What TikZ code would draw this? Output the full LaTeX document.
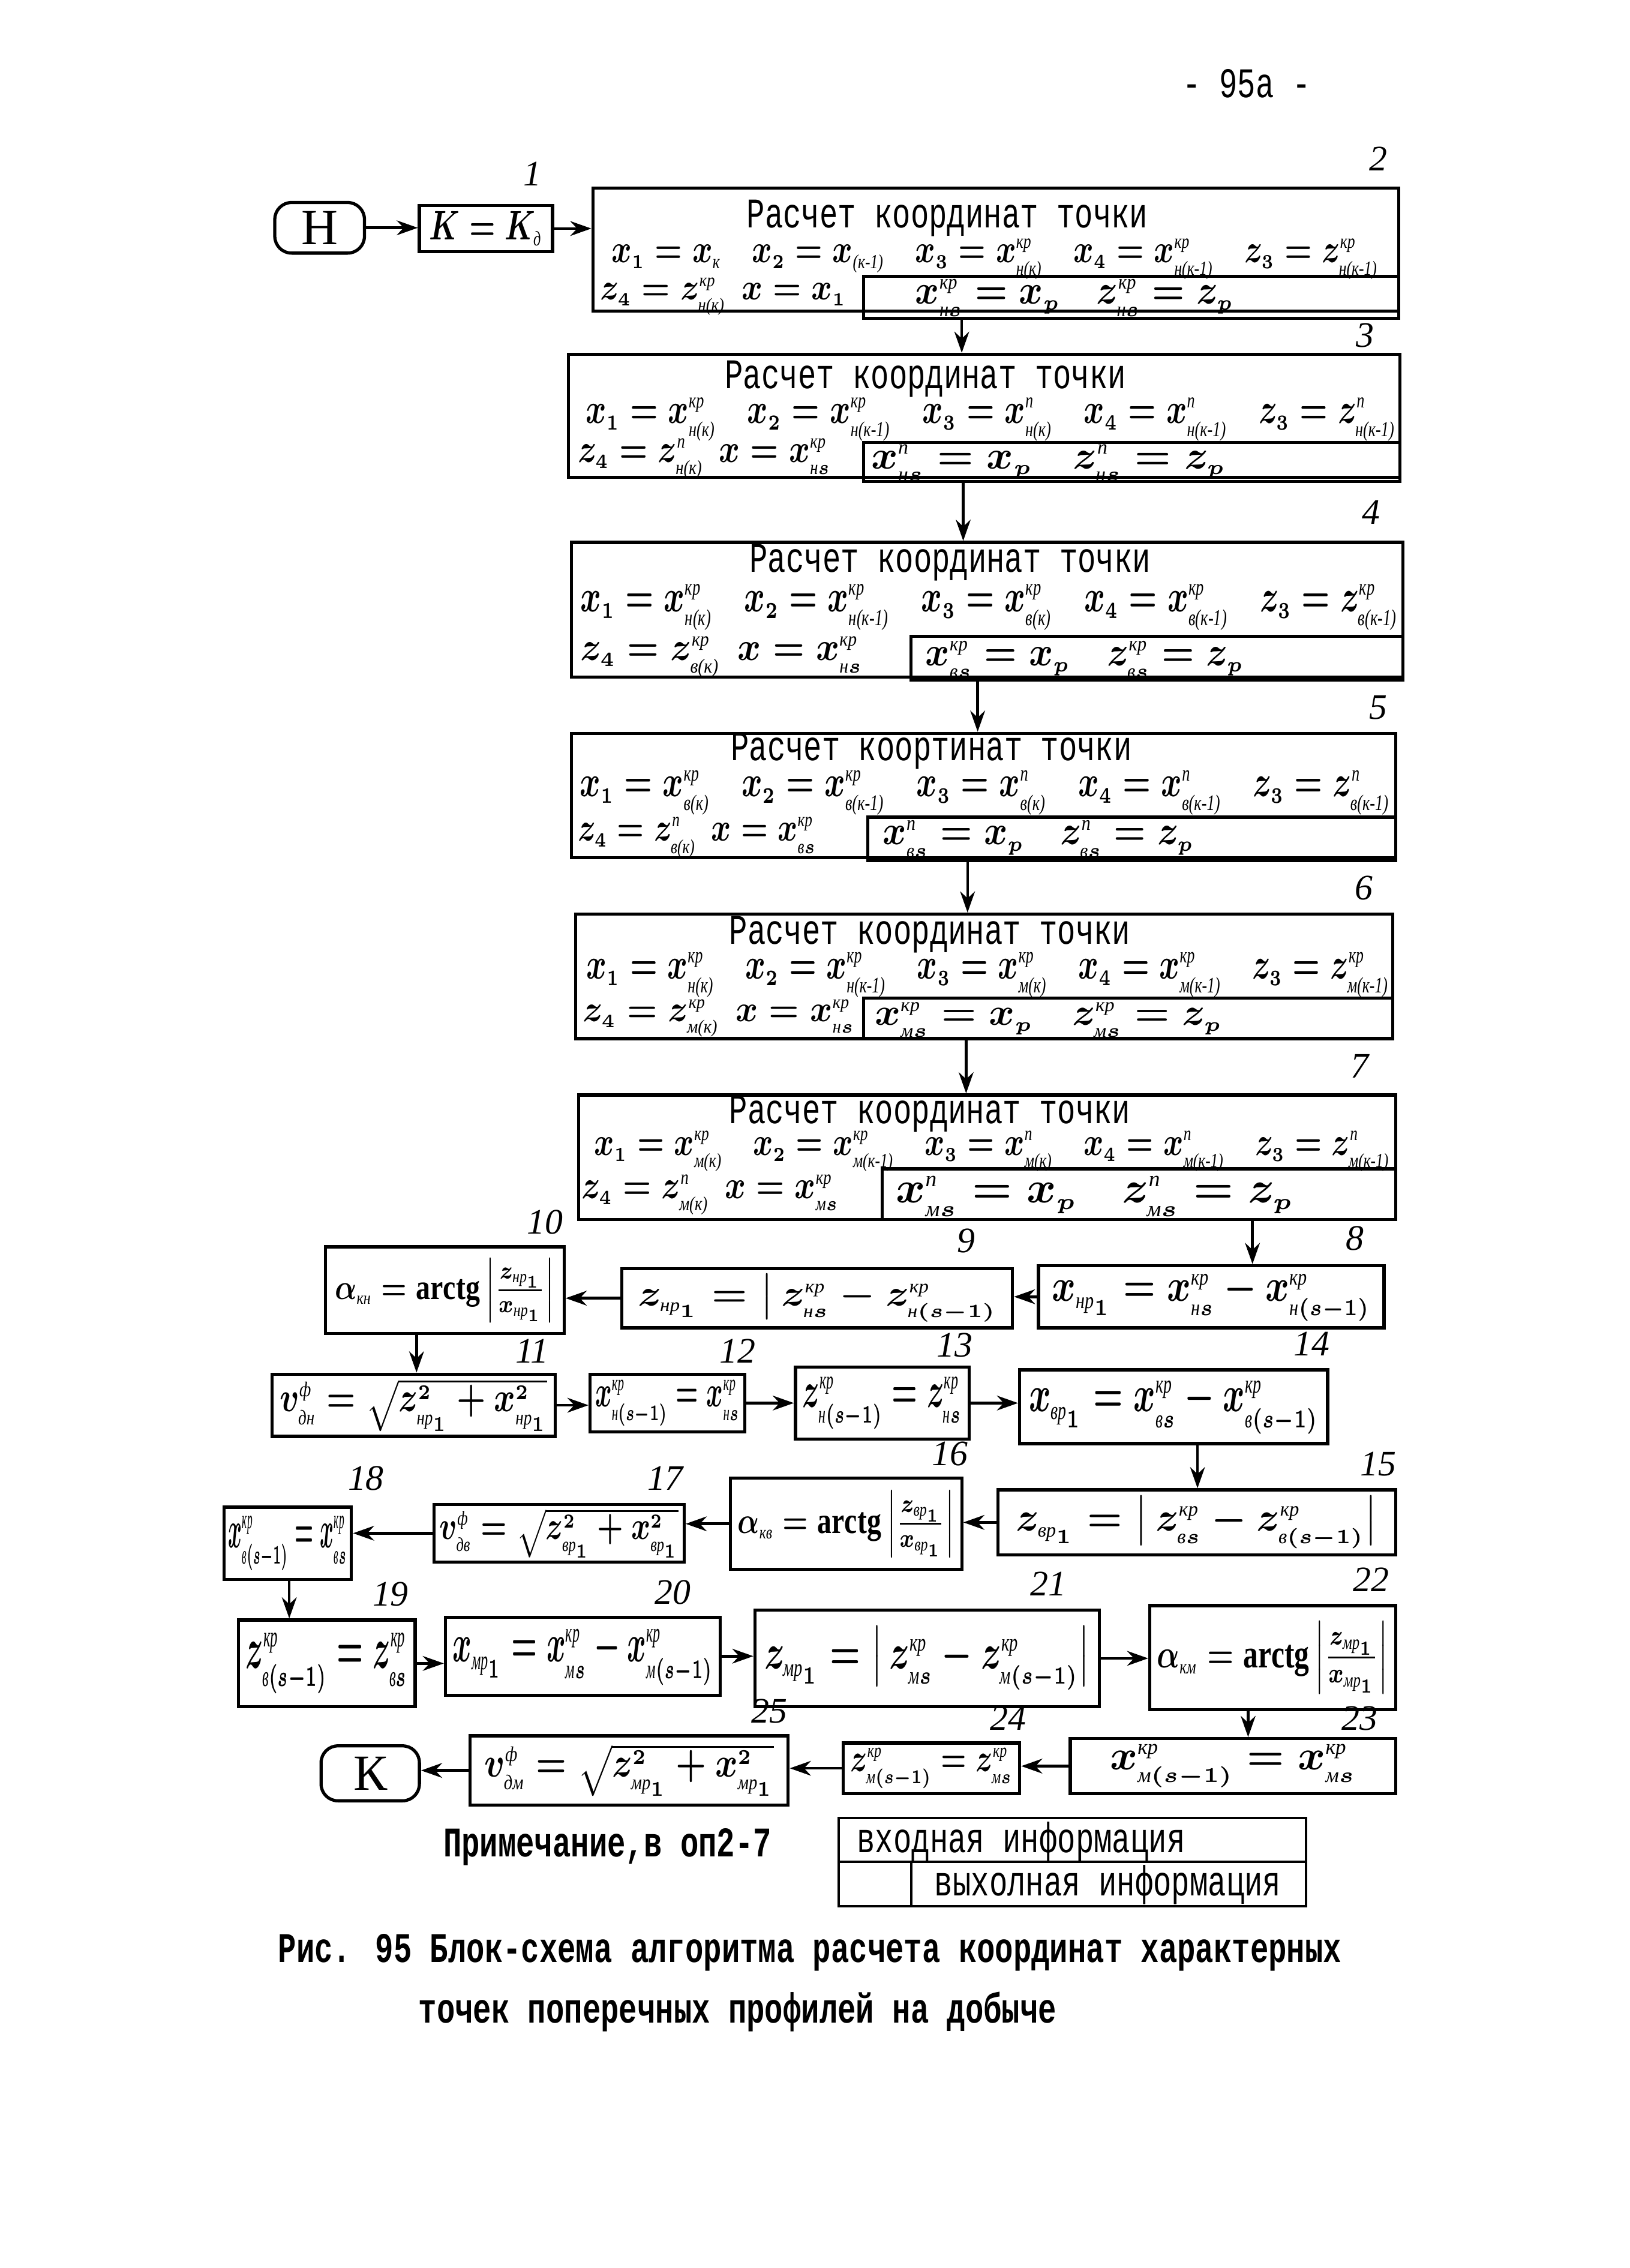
\documentclass[tikz,border=0pt]{standalone}
\usepackage{fontspec}
\usepackage{amsmath}
\setmainfont{Liberation Serif}
\newfontfamily\tw[FakeStretch=0.72]{Liberation Mono}
\usetikzlibrary{arrows.meta,fit}
\newlength\uw \setlength\uw{0.0241cm}
\newcommand\fw[3]{\resizebox*{#1\uw}{#2\uw}{#3}}
\newcommand\T[1]{\text{#1}}
\newcommand\XX[3]{{#1}^{\scriptscriptstyle #2}_{\scriptscriptstyle #3}}
\newcommand\XS[2]{{#1}_{\scriptscriptstyle #2}}
\newcommand\kr{\text{кр}}
\newcommand\pp{\text{п}}
\begin{document}
\begin{tikzpicture}[x=0.0241cm,y=-0.0241cm,
 blk/.style={draw,line width=1.5pt,inner sep=0pt},
 thinbox/.style={draw,line width=1.1pt,inner sep=0pt},
 rnd/.style={blk,rounded corners=8pt},
 arr/.style={line width=1.3pt,-{Stealth[length=10pt,width=7pt]}},
 ttl/.style={font=\tw\fontsize{20}{22}\selectfont,inner sep=0pt},
 captxt/.style={font=\tw\bfseries\fontsize{20}{22}\selectfont,inner sep=0pt},
 fm/.style={font=\itshape\boldmath,inner sep=0pt},
 lbl/.style={font=\itshape\fontsize{17}{19}\selectfont,inner sep=0pt}]

\useasboundingbox (0,0) rectangle (1127,1568);

\node[ttl] (pg) at (862,58) {- 95а -};

% start / K=K
\node[rnd,fit={(190,140)(252,175)}] (H) {};
\node[fm,font=\fontsize{24}{26}\selectfont] (Ht) at (H) {Н};
\node[blk,fit={(290,142)(382,174)}] (KK) {};
\node[fm] (KKt) at (KK) {\fw{78}{24}{$K=\XS{K}{\T{д}}$}};
\node[lbl] (l1) at (368,120) {1};

% ---------- box 2
\node[blk,fit={(410,130)(967,215)}] (b2) {};
\node[blk,fit={(597,191)(967,220)}] (b2o) {};
\node[ttl] (b2t) at (655,151) {Расчет координат точки};
\node[fm] (b2a) at (688,179) {\fw{530}{28}{$\XS{x}{1}=\XS{x}{\T{к}}\quad \XS{x}{2}=\XS{x}{\T{(к-1)}}\quad \XS{x}{3}=\XX{x}{\kr}{\T{н(к)}}\quad \XS{x}{4}=\XX{x}{\kr}{\T{н(к-1)}}\quad \XS{z}{3}=\XX{z}{\kr}{\T{н(к-1)}}$}};
\node[fm] (b2b) at (500,205) {\fw{170}{26}{$\XS{z}{4}=\XX{z}{\kr}{\T{н(к)}}\ \ x=\XS{x}{1}$}};
\node[fm] (b2c) at (743,206) {\fw{220}{26}{$\XX{x}{\kr}{\T{н}s}=\XS{x}{p}\quad \XX{z}{\kr}{\T{н}s}=\XS{z}{p}$}};
\node[lbl] (l2) at (953,110) {2};

% ---------- box 3
\node[blk,fit={(393,245)(968,330)}] (b3) {};
\node[blk,fit={(597,306)(968,333)}] (b3o) {};
\node[ttl] (b3t) at (640,262) {Расчет координат точки};
\node[fm] (b3a) at (685,290) {\fw{560}{30}{$\XS{x}{1}=\XX{x}{\kr}{\T{н(к)}}\quad \XS{x}{2}=\XX{x}{\kr}{\T{н(к-1)}}\quad \XS{x}{3}=\XX{x}{\pp}{\T{н(к)}}\quad \XS{x}{4}=\XX{x}{\pp}{\T{н(к-1)}}\quad \XS{z}{3}=\XX{z}{\pp}{\T{н(к-1)}}$}};
\node[fm] (b3b) at (487,317) {\fw{175}{28}{$\XS{z}{4}=\XX{z}{\pp}{\T{н(к)}}\ \ x=\XX{x}{\kr}{\T{н}s}$}};
\node[fm] (b3c) at (725,320) {\fw{245}{25}{$\XX{x}{\pp}{\T{н}s}=\XS{x}{p}\quad \XX{z}{\pp}{\T{н}s}=\XS{z}{p}$}};
\node[lbl] (l3) at (944,232) {3};

% ---------- box 4
\node[blk,fit={(395,375)(970,468)}] (b4) {};
\node[blk,fit={(630,440)(970,470)}] (b4o) {};
\node[ttl] (b4t) at (657,389) {Расчет координат точки};
\node[fm] (b4a) at (684,420) {\fw{565}{32}{$\XS{x}{1}=\XX{x}{\kr}{\T{н(к)}}\quad \XS{x}{2}=\XX{x}{\kr}{\T{н(к-1)}}\quad \XS{x}{3}=\XX{x}{\kr}{\T{в(к)}}\quad \XS{x}{4}=\XX{x}{\kr}{\T{в(к-1)}}\quad \XS{z}{3}=\XX{z}{\kr}{\T{в(к-1)}}$}};
\node[fm] (b4b) at (499,454) {\fw{195}{28}{$\XS{z}{4}=\XX{z}{\kr}{\T{в(к)}}\ \ x=\XX{x}{\kr}{\T{н}s}$}};
\node[fm] (b4c) at (750,456) {\fw{220}{26}{$\XX{x}{\kr}{\T{в}s}=\XS{x}{p}\quad \XX{z}{\kr}{\T{в}s}=\XS{z}{p}$}};
\node[lbl] (l4) at (948,354) {4};

% ---------- box 5
\node[blk,fit={(395,507)(965,593)}] (b5) {};
\node[blk,fit={(600,565)(965,595)}] (b5o) {};
\node[ttl] (b5t) at (644,519) {Расчет коортинат точки};
\node[fm] (b5a) at (681,548) {\fw{560}{31}{$\XS{x}{1}=\XX{x}{\kr}{\T{в(к)}}\quad \XS{x}{2}=\XX{x}{\kr}{\T{в(к-1)}}\quad \XS{x}{3}=\XX{x}{\pp}{\T{в(к)}}\quad \XS{x}{4}=\XX{x}{\pp}{\T{в(к-1)}}\quad \XS{z}{3}=\XX{z}{\pp}{\T{в(к-1)}}$}};
\node[fm] (b5b) at (482,579) {\fw{165}{28}{$\XS{z}{4}=\XX{z}{\pp}{\T{в(к)}}\ \ x=\XX{x}{\kr}{\T{в}s}$}};
\node[fm] (b5c) at (718,580) {\fw{215}{26}{$\XX{x}{\pp}{\T{в}s}=\XS{x}{p}\quad \XX{z}{\pp}{\T{в}s}=\XS{z}{p}$}};
\node[lbl] (l5) at (953,489) {5};

% ---------- box 6
\node[blk,fit={(398,632)(963,718)}] (b6) {};
\node[blk,fit={(597,690)(963,718)}] (b6o) {};
\node[ttl] (b6t) at (643,646) {Расчет координат точки};
\node[fm] (b6a) at (683,674) {\fw{555}{31}{$\XS{x}{1}=\XX{x}{\kr}{\T{н(к)}}\quad \XS{x}{2}=\XX{x}{\kr}{\T{н(к-1)}}\quad \XS{x}{3}=\XX{x}{\kr}{\T{м(к)}}\quad \XS{x}{4}=\XX{x}{\kr}{\T{м(к-1)}}\quad \XS{z}{3}=\XX{z}{\kr}{\T{м(к-1)}}$}};
\node[fm] (b6b) at (497,704) {\fw{188}{26}{$\XS{z}{4}=\XX{z}{\kr}{\T{м(к)}}\ \ x=\XX{x}{\kr}{\T{н}s}$}};
\node[fm] (b6c) at (725,705) {\fw{240}{24}{$\XX{x}{\kr}{\T{м}s}=\XS{x}{p}\quad \XX{z}{\kr}{\T{м}s}=\XS{z}{p}$}};
\node[lbl] (l6) at (943,614) {6};

% ---------- box 7
\node[blk,fit={(400,757)(965,843)}] (b7) {};
\node[blk,fit={(610,808)(965,843)}] (b7o) {};
\node[ttl] (b7t) at (643,770) {Расчет координат точки};
\node[fm] (b7a) at (686,796) {\fw{550}{28}{$\XS{x}{1}=\XX{x}{\kr}{\T{м(к)}}\quad \XS{x}{2}=\XX{x}{\kr}{\T{м(к-1)}}\quad \XS{x}{3}=\XX{x}{\pp}{\T{м(к)}}\quad \XS{x}{4}=\XX{x}{\pp}{\T{м(к-1)}}\quad \XS{z}{3}=\XX{z}{\pp}{\T{м(к-1)}}$}};
\node[fm] (b7b) at (491,826) {\fw{178}{28}{$\XS{z}{4}=\XX{z}{\pp}{\T{м(к)}}\ \ x=\XX{x}{\kr}{\T{м}s}$}};
\node[fm] (b7c) at (757,827) {\fw{275}{28}{$\XX{x}{\pp}{\T{м}s}=\XS{x}{p}\quad \XX{z}{\pp}{\T{м}s}=\XS{z}{p}$}};
\node[lbl] (l7) at (940,737) {7};

% ---------- row 1 (8, 9, 10)
\node[blk,fit={(718,875)(957,918)}] (b8) {};
\node[fm] (t8) at (b8) {\fw{220}{34}{$\XS{x}{\T{нр}_1}=\XX{x}{\kr}{\T{н}s}-\XX{x}{\kr}{\T{н}(s-1)}$}};
\node[lbl] (l8) at (937,856) {8};
\node[blk,fit={(430,877)(700,918)}] (b9) {};
\node[fm] (t9) at (b9) {\fw{248}{33}{$\XS{z}{\T{нр}_1}=\bigl|\,\XX{z}{\kr}{\T{н}s}-\XX{z}{\kr}{\T{н}(s-1)}$}};
\node[lbl] (l9) at (668,858) {9};
\node[blk,fit={(225,862)(390,922)}] (b10) {};
\node[fm] (t10) at (b10) {\fw{152}{44}{$\XS{\alpha}{\T{кн}}=\mathrm{arctg}\left|\frac{\XS{z}{\T{нр}_1}}{\XS{x}{\T{нр}_1}}\right|$}};
\node[lbl] (l10) at (377,845) {10};

% ---------- row 2 (11-14)
\node[blk,fit={(188,950)(384,993)}] (b11) {};
\node[fm] (t11) at (b11) {\fw{185}{36}{$\XX{v}{\T{ф}}{\T{дн}}=\sqrt{\XX{z}{2}{\T{нр}_1}+\XX{x}{2}{\T{нр}_1}}$}};
\node[lbl] (l11) at (368,934) {11};
\node[blk,fit={(408,950)(515,990)}] (b12) {};
\node[fm] (t12) at (b12) {\fw{100}{32}{$\XX{x}{\kr}{\T{н}(s-1)}=\XX{x}{\kr}{\T{н}s}$}};
\node[lbl] (l12) at (510,934) {12};
\node[blk,fit={(550,945)(670,995)}] (b13) {};
\node[fm] (t13) at (b13) {\fw{110}{36}{$\XX{z}{\kr}{\T{н}(s-1)}=\XX{z}{\kr}{\T{н}s}$}};
\node[lbl] (l13) at (660,930) {13};
\node[blk,fit={(705,947)(918,998)}] (b14) {};
\node[fm] (t14) at (b14) {\fw{200}{38}{$\XS{x}{\T{вр}_1}=\XX{x}{\kr}{\T{в}s}-\XX{x}{\kr}{\T{в}(s-1)}$}};
\node[lbl] (l14) at (907,929) {14};

% ---------- row 3 (15-18)
\node[blk,fit={(690,1030)(965,1075)}] (b15) {};
\node[fm] (t15) at (b15) {\fw{250}{36}{$\XS{z}{\T{вр}_1}=\bigl|\,\XX{z}{\kr}{\T{в}s}-\XX{z}{\kr}{\T{в}(s-1)}\bigr|$}};
\node[lbl] (l15) at (953,1012) {15};
\node[blk,fit={(505,1022)(665,1085)}] (b16) {};
\node[fm] (t16) at (b16) {\fw{150}{46}{$\XS{\alpha}{\T{кв}}=\mathrm{arctg}\left|\frac{\XS{z}{\T{вр}_1}}{\XS{x}{\T{вр}_1}}\right|$}};
\node[lbl] (l16) at (657,1005) {16};
\node[blk,fit={(300,1040)(473,1080)}] (b17) {};
\node[fm] (t17) at (b17) {\fw{165}{34}{$\XX{v}{\T{ф}}{\T{дв}}=\sqrt{\XX{z}{2}{\T{вр}_1}+\XX{x}{2}{\T{вр}_1}}$}};
\node[lbl] (l17) at (460,1022) {17};
\node[blk,fit={(155,1042)(243,1092)}] (b18) {};
\node[fm] (t18) at (b18) {\fw{82}{38}{$\XX{x}{\kr}{\T{в}(s-1)}=\XX{x}{\kr}{\T{в}s}$}};
\node[lbl] (l18) at (253,1022) {18};

% ---------- row 4 (19-22)
\node[blk,fit={(165,1120)(287,1180)}] (b19) {};
\node[fm] (t19) at (b19) {\fw{112}{42}{$\XX{z}{\kr}{\T{в}(s-1)}=\XX{z}{\kr}{\T{в}s}$}};
\node[lbl] (l19) at (270,1102) {19};
\node[blk,fit={(308,1118)(498,1172)}] (b20) {};
\node[fm] (t20) at (b20) {\fw{180}{40}{$\XS{x}{\T{мр}_1}=\XX{x}{\kr}{\T{м}s}-\XX{x}{\kr}{\T{м}(s-1)}$}};
\node[lbl] (l20) at (465,1101) {20};
\node[blk,fit={(522,1113)(760,1180)}] (b21) {};
\node[fm] (t21) at (b21) {\fw{225}{44}{$\XS{z}{\T{мр}_1}=\bigl|\,\XX{z}{\kr}{\T{м}s}-\XX{z}{\kr}{\T{м}(s-1)}\bigr|$}};
\node[lbl] (l21) at (725,1095) {21};
\node[blk,fit={(795,1110)(965,1182)}] (b22) {};
\node[fm] (t22) at (b22) {\fw{160}{50}{$\XS{\alpha}{\T{км}}=\mathrm{arctg}\left|\frac{\XS{z}{\T{мр}_1}}{\XS{x}{\T{мр}_1}}\right|$}};
\node[lbl] (l22) at (948,1092) {22};

% ---------- row 5 (23-25, K)
\node[blk,fit={(740,1202)(965,1240)}] (b23) {};
\node[fm] (t23) at (b23) {\fw{170}{30}{$\XX{x}{\kr}{\T{м}(s-1)}=\XX{x}{\kr}{\T{м}s}$}};
\node[lbl] (l23) at (940,1188) {23};
\node[blk,fit={(583,1205)(705,1240)}] (b24) {};
\node[fm] (t24) at (b24) {\fw{112}{28}{$\XX{z}{\kr}{\T{м}(s-1)}=\XX{z}{\kr}{\T{м}s}$}};
\node[lbl] (l24) at (697,1188) {24};
\node[blk,fit={(325,1200)(545,1248)}] (b25) {};
\node[fm] (t25) at (b25) {\fw{200}{36}{$\XX{v}{\T{ф}}{\T{дм}}=\sqrt{\XX{z}{2}{\T{мр}_1}+\XX{x}{2}{\T{мр}_1}}$}};
\node[lbl] (l25) at (532,1183) {25};
\node[rnd,fit={(222,1207)(290,1245)}] (K) {};
\node[fm,font=\fontsize{24}{26}\selectfont] (Kt) at (K) {К};

% ---------- connectors
\coordinate (v23) at (665,0);
\coordinate (v34) at (666,0);
\coordinate (v45) at (676,0);
\coordinate (v56) at (669,0);
\coordinate (v67) at (668,0);
\coordinate (v78) at (866,0);
\coordinate (v1011) at (288,0);
\coordinate (v1415) at (828,0);
\coordinate (v1819) at (200,0);
\coordinate (v2223) at (863,0);

\draw[arr] (H.east) -- (H.east -| KK.west);
\draw[arr] (KK.east) -- (KK.east -| b2.west);
\draw[arr] (b2o.south -| v23) -- (b3.north -| v23);
\draw[arr] (b3o.south -| v34) -- (b4.north -| v34);
\draw[arr] (b4o.south -| v45) -- (b5.north -| v45);
\draw[arr] (b5o.south -| v56) -- (b6.north -| v56);
\draw[arr] (b6o.south -| v67) -- (b7.north -| v67);
\draw[arr] (b7o.south -| v78) -- (b8.north -| v78);

\draw[arr] (b8.west) -- (b8.west -| b9.east);
\draw[arr] (b9.west) -- (b9.west -| b10.east);
\draw[arr] (b10.south -| v1011) -- (b11.north -| v1011);
\draw[arr] (b11.east) -- (b11.east -| b12.west);
\draw[arr] (b12.east) -- (b12.east -| b13.west);
\draw[arr] (b13.east) -- (b13.east -| b14.west);
\draw[arr] (b14.south -| v1415) -- (b15.north -| v1415);
\draw[arr] (b15.west) -- (b15.west -| b16.east);
\draw[arr] (b16.west) -- (b16.west -| b17.east);
\draw[arr] (b17.west) -- (b17.west -| b18.east);
\draw[arr] (b18.south -| v1819) -- (b19.north -| v1819);
\draw[arr] (b19.east) -- (b19.east -| b20.west);
\draw[arr] (b20.east) -- (b20.east -| b21.west);
\draw[arr] (b21.east) -- (b21.east -| b22.west);
\draw[arr] (b22.south -| v2223) -- (b23.north -| v2223);
\draw[arr] (b23.west) -- (b23.west -| b24.east);
\draw[arr] (b24.west) -- (b24.west -| b25.east);
\draw[arr] (b25.west) -- (b25.west -| K.east);

% ---------- legend
\node[captxt] (note) at (420,1277) {Примечание,в оп2-7};
\node[thinbox,fit={(580,1257)(903,1318)}] (leg) {};
\node[thinbox,fit={(580,1287)(903,1318)}] (legout) {};
\node[thinbox,fit={(580,1287)(630,1318)}] (legsq) {};
\node[ttl] (legin) at (706,1273) {входная информация};
\node[ttl] (legoutt) at (766,1303) {выхолная информация};

% ---------- caption
\node[captxt] (cap1) at (560,1350) {Рис. 95 Блок-схема алгоритма расчета координат характерных};
\node[captxt] (cap2) at (510,1391) {точек поперечных профилей на добыче};
\end{tikzpicture}
\end{document}
